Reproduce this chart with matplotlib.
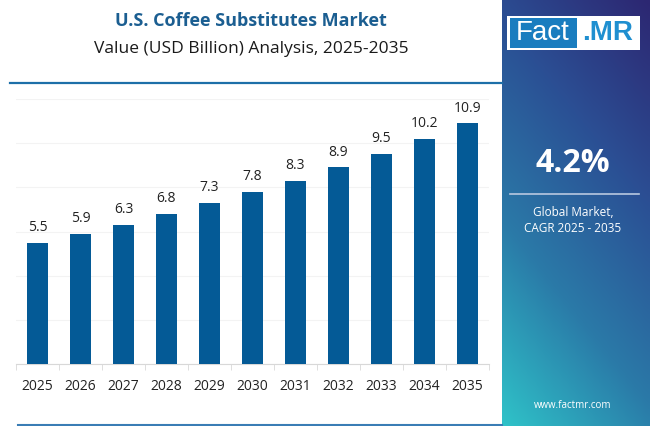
import numpy as np
import matplotlib.pyplot as plt
from matplotlib.colors import LinearSegmentedColormap
from matplotlib.patches import Rectangle

# Data
years = ["2025", "2026", "2027", "2028", "2029", "2030",
         "2031", "2032", "2033", "2034", "2035"]
values = [5.5, 5.9, 6.3, 6.8, 7.3, 7.8, 8.3, 8.9, 9.5, 10.2, 10.9]
value_labels = ["5.5", "5.9", "6.3", "6.8", "7.3", "7.8",
                "8.3", "8.9", "9.5", "10.2", "10.9"]

title = "U.S. Coffee Substitutes Market"
subtitle = "Value (USD Billion) Analysis, 2025-2035"
cagr = "4.2%"
cagr_text = "Global Market,\nCAGR 2025 - 2035"
site = "www.factmr.com"

W, H = 650, 426
fig = plt.figure(figsize=(6.5, 4.26), dpi=100)
fig.patch.set_facecolor("white")

def fx(px):
    return px / W

def fy(py):
    # py measured from top
    return 1 - py / H

# Right gradient panel
panel = fig.add_axes([fx(502), 0, fx(W - 502), 1])
panel.set_axis_off()
nx, ny = 60, 180
u = np.linspace(0, 1, nx)[None, :]
v = np.linspace(1, 0, ny)[:, None]
t = np.clip(0.3 * u + 0.7 * v, 0, 1)
grad_cmap = LinearSegmentedColormap.from_list(
    "panel", ["#2fc2c8", "#2a7aa8", "#2b4f94", "#2d2772"])
panel.imshow(t, cmap=grad_cmap, aspect="auto", extent=[0, 1, 0, 1],
             interpolation="bicubic")
panel.set_xlim(0, 1)
panel.set_ylim(0, 1)

# Logo
fig.patches.append(Rectangle((fx(507), fy(50)), fx(133), 34 / H,
                             transform=fig.transFigure, facecolor="white",
                             edgecolor="none", zorder=5))
fig.patches.append(Rectangle((fx(510), fy(48)), fx(67), 30 / H,
                             transform=fig.transFigure, facecolor="#1a7dbf",
                             edgecolor="none", zorder=6))
fig.text(fx(543), fy(33), "Fact", color="white", fontsize=20,
         family="Liberation Sans", ha="center", va="center", zorder=7)
fig.text(fx(608), fy(33), ".MR", color="#1f8fd0", fontsize=20,
         family="Liberation Sans", weight="bold", ha="center", va="center",
         zorder=7)

# CAGR block
fig.text(fx(573), fy(163), cagr, color="white", fontsize=23,
         family="Open Sans", weight="bold", ha="center", va="center")
fig.add_artist(plt.Line2D([fx(510), fx(639)], [fy(194), fy(194)],
                          transform=fig.transFigure, color="#b8c8e0", lw=1.2))
fig.text(fx(573), fy(220), cagr_text, color="white", fontsize=8.5,
         family="Open Sans", ha="center", va="center", linespacing=1.3)
fig.text(fx(573), fy(406), site, color="white", fontsize=7,
         family="Open Sans", ha="center", va="center")

# Titles
fig.text(fx(251), fy(21), title, color="#1b5e91", fontsize=13,
         family="Open Sans", weight="bold", ha="center", va="center")
fig.text(fx(251), fy(49), subtitle, color="#1a1a1a", fontsize=12.5,
         family="Open Sans", ha="center", va="center")
fig.add_artist(plt.Line2D([fx(10), fx(502)], [fy(83), fy(83)],
                          transform=fig.transFigure, color="#1d6fa8", lw=1.6))
fig.add_artist(plt.Line2D([fx(18), fx(502)], [fy(425), fy(425)],
                          transform=fig.transFigure, color="#3a7db5", lw=1.5))

# Bar chart
ax = fig.add_axes([fx(16), fy(364), fx(489 - 16), (364 - 99) / H])
x = np.arange(len(years))
bars = ax.bar(x, values, width=0.5, color="#045a96", zorder=3)
for xi, val, lab in zip(x, values, value_labels):
    ax.text(xi, val + 0.35, lab, ha="center", va="bottom", fontsize=10,
            family="Open Sans", color="#222222")

ax.set_xlim(-0.5, len(years) - 0.5)
ax.set_ylim(0, 12)
ax.set_yticks(np.arange(0, 13, 2))
ax.yaxis.grid(True, color="#f3f3f3", lw=0.8, zorder=0)
ax.tick_params(axis="y", left=False, labelleft=False)
ax.set_xticks(x)
ax.set_xticklabels(years, fontsize=10, family="Open Sans", color="#222222")
ax.tick_params(axis="x", which="major", length=0, pad=11)
ax.set_xticks(np.arange(-0.5, len(years), 1), minor=True)
ax.tick_params(axis="x", which="minor", length=4, color="#d8d8d8")
for side in ["top", "right", "left"]:
    ax.spines[side].set_visible(False)
ax.spines["bottom"].set_color("#d8d8d8")
ax.set_facecolor("none")

fig.savefig("out.png", dpi=100)
